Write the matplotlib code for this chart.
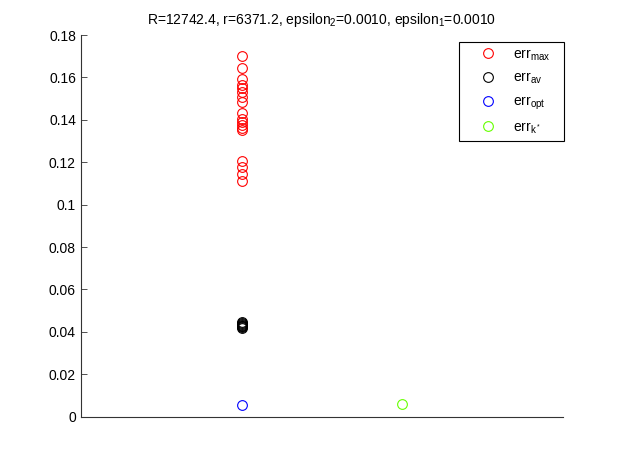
import matplotlib.pyplot as plt
import numpy as np

plt.rcParams['font.family'] = ['Liberation Sans', 'DejaVu Sans']
plt.rcParams['mathtext.fontset'] = 'custom'
plt.rcParams['mathtext.rm'] = 'Liberation Sans'
plt.rcParams['mathtext.it'] = 'Liberation Sans'

# values
err_max = [0.1702, 0.1647, 0.1595, 0.1563, 0.1548, 0.1532, 0.1508, 0.1484,
           0.1432, 0.1405, 0.1390, 0.1374, 0.1363, 0.1350,
           0.1208, 0.1176, 0.1145, 0.1113]
err_av = [0.0445, 0.0441, 0.0437, 0.0433, 0.0429, 0.0425, 0.0421, 0.0418]
err_opt = [0.0056]
err_k = [0.0057]
x_first = 1
x_second = 2

yticks = [0, 0.02, 0.04, 0.06, 0.08, 0.1, 0.12, 0.14, 0.16, 0.18]
ytick_labels = ['0', '0.02', '0.04', '0.06', '0.08', '0.1', '0.12', '0.14', '0.16', '0.18']

fig = plt.figure(figsize=(6.22, 4.68), dpi=100)
ax = fig.add_axes([0.13, 0.11, 0.775, 0.815])

mk = dict(linestyle='none', marker='o', markerfacecolor='none', markersize=7, markeredgewidth=0.8)
# trailing spaces widen the legend box on the right like the original
ax.plot([x_first] * len(err_max), err_max, markeredgecolor='#ff0000', label='err$_{max}$   ', **mk)
ax.plot([x_first] * len(err_av), err_av, markeredgecolor='black', label='err$_{av}$', **mk)
ax.plot([x_first] * len(err_opt), err_opt, markeredgecolor='#0000ff', label='err$_{opt}$', **mk)
ax.plot([x_second] * len(err_k), err_k, markeredgecolor='#66ff00', label='err$_{k^*}$', **mk)

ax.set_xlim(0, 3)
ax.set_ylim(0, 0.18)
ax.set_xticks([])
ax.set_yticks(yticks)
ax.set_yticklabels(ytick_labels)
ax.tick_params(axis='y', direction='in', length=4, labelsize=10, width=0.6, color='#333333')
for s in ['top', 'right']:
    ax.spines[s].set_visible(False)
for s in ['left', 'bottom']:
    ax.spines[s].set_color('#333333')
    ax.spines[s].set_linewidth(0.8)

ax.set_title('R=12742.4, r=6371.2, epsilon$_2$=0.0010, epsilon$_1$=0.0010', fontsize=10, pad=8)

leg = ax.legend(loc='upper right', bbox_to_anchor=(1.003, 0.983), fontsize=10, fancybox=False,
                edgecolor='black', framealpha=1, borderpad=0.4, labelspacing=0.6,
                handlelength=3.4, handletextpad=0.1, borderaxespad=0)
leg.get_frame().set_linewidth(0.8)

plt.savefig('out.png', dpi=100)
